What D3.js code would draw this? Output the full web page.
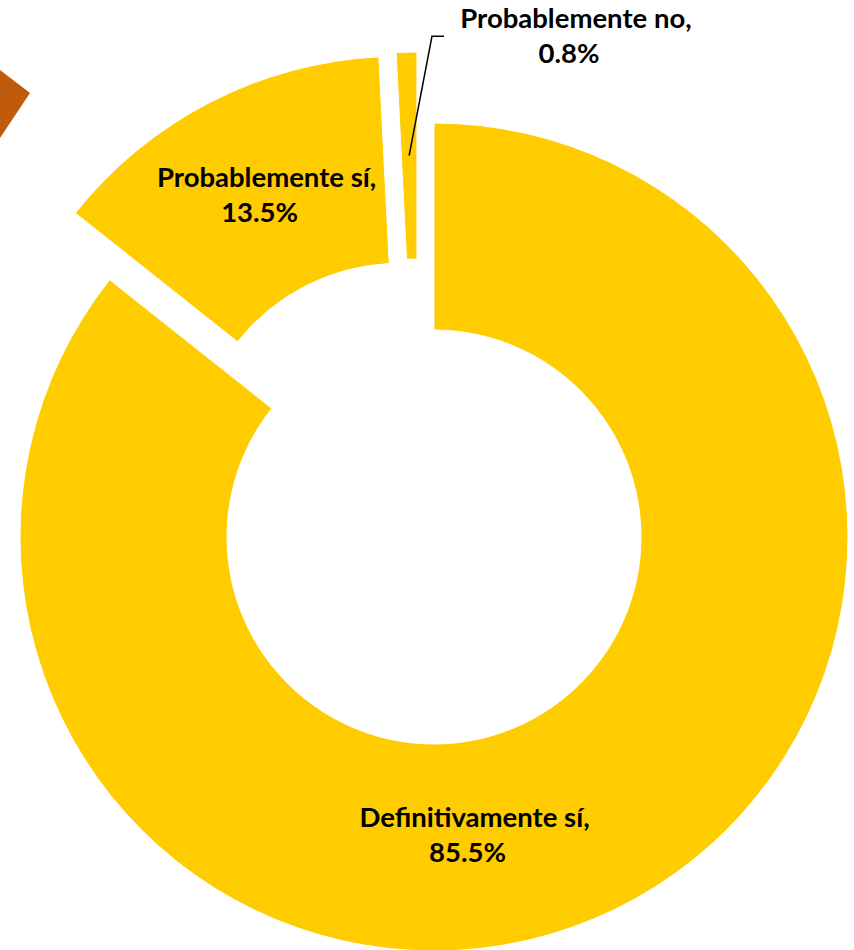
<!DOCTYPE html>
<html>
<head>
<meta charset="utf-8">
<script src="https://cdn.jsdelivr.net/npm/d3@7"></script>
<style>
  body { margin: 0; background: #fff; }
  text { font-family: Lato, "Open Sans", sans-serif; font-weight: 700; fill: #000; }
</style>
</head>
<body>
<div id="chart"></div>
<script>
// data
const categories = ["Definitivamente sí", "Probablemente sí", "Probablemente no"];
const values = [85.5, 13.5, 0.8];
const valueLabels = ["85.5%", "13.5%", "0.8%"];

const width = 854;
const height = 950;
const cx = 434, cy = 537;
const outerR = 414, innerR = 207;

// explosion per slice: distance, and direction in degrees (null = slice bisector)
const explode = [
    { dist: 0, dir: null },
    { dist: 75, dir: null },
    { dist: 73, dir: -13.5 }
];

const toRad = Math.PI / 180;

const svg = d3.select("#chart")
    .append("svg")
    .attr("width", width)
    .attr("height", height);

// decorative corner shape
svg.append("path")
    .attr("d", "M0,70 L30,93 L0,138 Z")
    .attr("fill", "#C05B0C");

const pie = d3.pie().sort(null).value(d => d);
const arcs = pie(values);

const arc = d3.arc()
    .innerRadius(innerR)
    .outerRadius(outerR);

function offset(d, i) {
    const e = explode[i];
    const a = e.dir === null ? (d.startAngle + d.endAngle) / 2 : e.dir * toRad;
    return [e.dist * Math.sin(a), -e.dist * Math.cos(a)];
}

const g = svg.append("g")
    .attr("transform", `translate(${cx},${cy})`);

const slice = g.selectAll(".slice")
    .data(arcs)
    .enter().append("g")
    .attr("class", "slice")
    .attr("transform", (d, i) => {
        const [dx, dy] = offset(d, i);
        return `translate(${dx},${dy})`;
    });

slice.append("path")
    .attr("d", arc)
    .attr("fill", "#FFCC00")
    .attr("stroke", "#fff")
    .attr("stroke-width", 1);

// labels inside the ring
const fontSize = 27.5;
const midR = (innerR + outerR) / 2;

function polar(r, deg) {
    return [r * Math.sin(deg * toRad), -r * Math.cos(deg * toRad)];
}

function twoLines(sel, x, y, i) {
    const t = sel.append("text")
        .attr("text-anchor", "middle")
        .style("font-size", fontSize + "px");
    t.append("tspan").attr("x", x + 4).attr("y", y - 8).text(categories[i] + ",");
    t.append("tspan").attr("x", x - 3).attr("y", y + 27).text(valueLabels[i]);
}

// main slice label sits lower than its centroid
const [mx, my] = polar(300, 173);
twoLines(slice.filter((d, i) => i === 0), mx, my, 0);

const sc = arc.centroid(arcs[1]);
twoLines(slice.filter((d, i) => i === 1), sc[0] + 5, sc[1] + 1, 1);

// small slice: outside label with leader line
const small = slice.filter((d, i) => i === 2);
const d2 = arcs[2];
const mid2 = (d2.startAngle + d2.endAngle) / 2 / toRad;
const p0 = polar(midR, mid2);
const p1 = polar(430, 2);
const p2 = [p1[0] + 12, p1[1]];

small.append("polyline")
    .attr("points", [p0, p1, p2].map(p => p.join(",")).join(" "))
    .attr("fill", "none")
    .attr("stroke", "#000")
    .attr("stroke-width", 1.5);

twoLines(small, p2[0] + 128, p2[1], 2);
</script>
</body>
</html>
